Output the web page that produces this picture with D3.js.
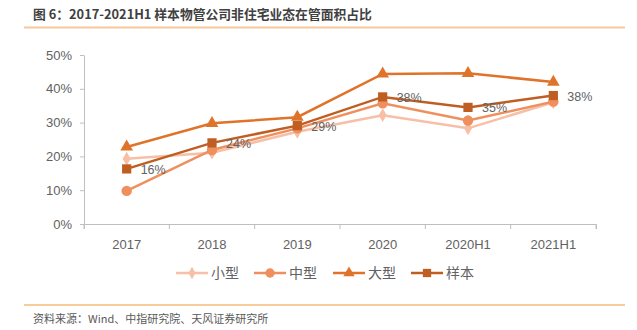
<!DOCTYPE html>
<html><head><meta charset="utf-8">
<script src="https://cdn.jsdelivr.net/npm/d3@7/dist/d3.min.js"></script>
<style>body{margin:0;background:#fff}svg{display:block}</style>
</head><body>
<svg id="c" width="637" height="330"></svg>
<script>
const categories = ["2017","2018","2019","2020","2020H1","2021H1"];
const small  = [19.3, 21.1, 27.3, 32.2, 28.3, 36.0];
const medium = [9.8, 21.9, 28.3, 35.7, 30.6, 36.2];
const large  = [22.8, 29.8, 31.6, 44.4, 44.6, 42.0];
const sample = [16.3, 24.0, 29.1, 37.6, 34.5, 38.0];
const sampleLabels = ["16%","24%","29%","38%","35%","38%"];
const yTicks = [0,10,20,30,40,50];
const seriesNames = ["小型","中型","大型","样本"];

const svg = d3.select("#c");
const font = "'Noto Sans CJK SC', 'Liberation Sans', sans-serif";
const grey = "#626262";

// title
svg.append("text").attr("x",33).attr("y",19).attr("font-family",font)
  .attr("font-size",12.8).attr("font-weight","bold").attr("fill","#404040")
  .text("图 6：2017-2021H1 样本物管公司非住宅业态在管面积占比");
svg.append("rect").attr("x",24).attr("y",26.5).attr("width",601).attr("height",2).attr("fill","#F7C99A");
svg.append("rect").attr("x",24).attr("y",304.5).attr("width",601).attr("height",1).attr("fill","#F29B3A");
svg.append("text").attr("x",33).attr("y",323).attr("font-family",font)
  .attr("font-size",11).attr("fill","#595959")
  .text("资料来源：Wind、中指研究院、天风证券研究所");

const x = d3.scaleBand().domain(categories).range([84,596]);
const y = d3.scaleLinear().domain([0,50]).range([224,55]);

const gx = svg.append("g").attr("transform","translate(0,224)")
  .call(d3.axisBottom(x).tickSize(5).tickSizeOuter(5).tickFormat(d=>d));
gx.select(".domain").attr("stroke","#BFBFBF");
gx.selectAll(".tick line").attr("stroke","#BFBFBF").attr("transform",`translate(${x.bandwidth()/2},0)`);
gx.selectAll(".tick text").attr("font-family","'Liberation Sans', Arial, sans-serif")
  .attr("font-size",13).attr("fill",grey).attr("dy","1.3em");
gx.append("line").attr("x1",84).attr("x2",84).attr("y1",0).attr("y2",5).attr("stroke","#BFBFBF");
gx.selectAll(".tick").filter((d,i)=>i===categories.length-1).select("line").remove();
gx.append("line").attr("x1",596).attr("x2",596).attr("y1",0).attr("y2",5).attr("stroke","#BFBFBF");

const gy = svg.append("g").attr("transform","translate(84,0)")
  .call(d3.axisLeft(y).tickValues(yTicks).tickSize(4).tickSizeOuter(0).tickFormat(d=>d+"%"));
gy.select(".domain").attr("stroke","#BFBFBF");
gy.selectAll(".tick line").attr("stroke","#BFBFBF");
gy.selectAll(".tick text").attr("font-family","'Liberation Sans', Arial, sans-serif")
  .attr("font-size",13).attr("fill",grey).attr("x",-12);

const cx = d => x(d) + x.bandwidth()/2;
const series = [
  {name:seriesNames[0], vals:small,  color:"#F7BFA6", shape:d3.symbolDiamond, size:55},
  {name:seriesNames[1], vals:medium, color:"#F08F5E", shape:d3.symbolCircle, size:85},
  {name:seriesNames[2], vals:large,  color:"#E0732A", shape:d3.symbolTriangle, size:70},
  {name:seriesNames[3], vals:sample, color:"#BF5E22", shape:d3.symbolSquare, size:85}
];
const line = d3.line().x((d,i)=>cx(categories[i])).y(d=>y(d));
series.forEach(s=>{
  const g = svg.append("g");
  g.append("path").datum(s.vals).attr("d",line).attr("fill","none")
    .attr("stroke",s.color).attr("stroke-width",2.5);
  g.selectAll("path.m").data(s.vals).join("path").attr("class","m")
    .attr("transform",(d,i)=>`translate(${cx(categories[i])},${y(d)})`)
    .attr("d",d3.symbol().type(s.shape).size(s.size)).attr("fill",s.color);
});
svg.append("g").selectAll("text").data(sample).join("text")
  .attr("x",(d,i)=>cx(categories[i])+14).attr("y",d=>y(d)+5)
  .attr("font-family","'Liberation Sans', Arial, sans-serif").attr("font-size",12.5)
  .attr("fill",grey).text((d,i)=>sampleLabels[i]);

// legend
const lx = [176, 254, 333, 411];
const lg = svg.append("g");
series.forEach((s,i)=>{
  const g = lg.append("g").attr("transform",`translate(${lx[i]},273)`);
  g.append("line").attr("x1",0).attr("x2",32).attr("stroke",s.color).attr("stroke-width",2.5);
  g.append("path").attr("transform","translate(16,0)")
    .attr("d",d3.symbol().type(s.shape).size(s.size*0.8)).attr("fill",s.color);
  g.append("text").attr("x",35).attr("y",5).attr("font-family",font)
    .attr("font-size",14).attr("fill",grey).text(s.name);
});
</script>
</body></html>
